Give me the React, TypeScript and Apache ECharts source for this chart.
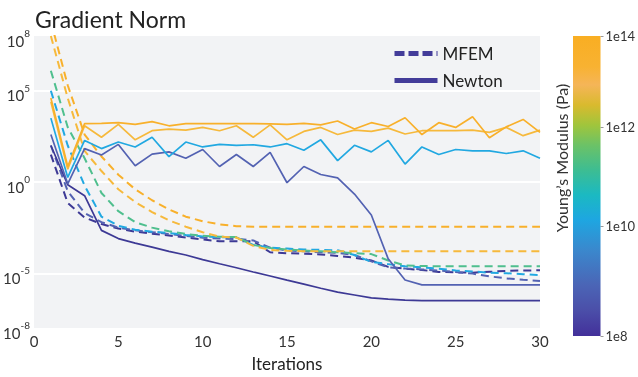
import React, { useEffect, useRef } from "react";
import * as echarts from "echarts";

// ---------- data (log10 of the gradient norm, per iteration) ----------
const iterations = [1, 2, 3, 4, 5, 6, 7, 8, 9, 10, 11, 12, 13, 14, 15, 16, 17, 18, 19, 20, 21, 22, 23, 24, 25, 26, 27, 28, 29, 30];

// Newton (solid)
const newtonE8 = [2.0, -0.15, -0.75, -2.65, -3.1, -3.35, -3.57, -3.8, -4.0, -4.25, -4.48, -4.7, -4.93, -5.15, -5.38, -5.6, -5.82, -6.03, -6.19, -6.35, -6.42, -6.47, -6.5, -6.5, -6.5, -6.5, -6.5, -6.5, -6.5, -6.5];
const newtonE9 = [2.6, -0.1, 1.83, 1.48, 2.06, 0.89, 1.53, 1.65, 1.3, 1.78, 0.85, 1.51, 0.85, 1.62, -0.04, 0.85, 0.41, 0.23, -0.66, -1.81, -4.21, -5.37, -5.64, -5.64, -5.64, -5.64, -5.64, -5.64, -5.64, -5.64];
const newtonE10 = [3.5, 0.25, 2.28, 1.83, 2.19, 1.92, 2.45, 1.39, 2.19, 1.92, 2.06, 2.01, 2.04, 1.92, 2.1, 1.74, 2.31, 1.17, 2.01, 1.65, 2.28, 0.98, 1.92, 1.51, 1.78, 1.71, 1.71, 1.56, 1.71, 1.3];
const newtonE13 = [4.4, 0.7, 3.08, 2.45, 3.16, 2.31, 2.81, 2.9, 2.84, 2.99, 2.81, 3.08, 2.45, 3.13, 2.31, 2.77, 2.99, 2.6, 2.84, 2.77, 2.95, 2.63, 2.81, 2.81, 2.81, 2.84, 2.72, 2.99, 2.54, 2.84];
const newtonE14 = [4.6, 0.85, 3.2, 3.21, 3.25, 3.16, 3.31, 3.08, 3.2, 3.2, 3.2, 3.2, 3.2, 3.18, 3.16, 3.21, 3.13, 3.34, 2.9, 3.25, 3.04, 3.52, 2.6, 3.25, 2.99, 3.58, 2.42, 3.02, 3.43, 2.72];

// MFEM (dashed)
const mfemE8 = [1.5, -1.15, -1.95, -2.3, -2.55, -2.72, -2.83, -2.93, -3.04, -3.15, -3.25, -3.25, -3.25, -3.85, -3.9, -3.93, -3.97, -4.05, -4.15, -4.3, -4.65, -4.75, -4.82, -4.93, -4.95, -4.97, -4.92, -4.87, -4.85, -4.84];
const mfemE9 = [2.0, -0.5, -1.7, -2.2, -2.5, -2.65, -2.75, -2.85, -2.95, -3.05, -3.1, -3.12, -3.2, -3.6, -3.75, -3.8, -3.85, -3.88, -4.0, -4.35, -4.68, -4.74, -4.79, -4.85, -4.93, -5.02, -5.17, -5.28, -5.36, -5.42];
const mfemE10 = [5.0, 2.0, -0.2, -1.9, -2.4, -2.62, -2.72, -2.8, -2.9, -2.98, -3.02, -3.03, -3.45, -3.6, -3.65, -3.7, -3.72, -3.74, -4.0, -4.38, -4.5, -4.62, -4.68, -4.75, -4.85, -4.9, -4.97, -5.0, -5.05, -5.1];
const mfemE11 = [6.1, 3.0, 1.3, -0.6, -1.6, -2.2, -2.5, -2.7, -2.85, -2.95, -3.0, -3.02, -3.45, -3.62, -3.7, -3.75, -3.8, -3.85, -3.9, -3.95, -4.3, -4.57, -4.6, -4.62, -4.62, -4.62, -4.62, -4.62, -4.62, -4.62];
const mfemE13 = [8.0, 4.6, 1.7, 0.6, -0.4, -1.1, -1.65, -2.1, -2.45, -2.75, -3.0, -3.04, -3.5, -3.72, -3.77, -3.79, -3.8, -3.8, -3.8, -3.8, -3.8, -3.8, -3.8, -3.8, -3.8, -3.8, -3.8, -3.8, -3.8, -3.8];
const mfemE14 = [8.8, 5.3, 2.6, 1.4, 0.4, -0.4, -1.0, -1.5, -1.9, -2.15, -2.32, -2.42, -2.45, -2.45, -2.45, -2.45, -2.45, -2.45, -2.45, -2.45, -2.45, -2.45, -2.45, -2.45, -2.45, -2.45, -2.45, -2.45, -2.45, -2.45];

// axes
const yRange = [-8, 8];
const yTickExponents = [-8, -5, 0, 5, 8];
const yGridExponents = [-5, 0, 5];
const xRange = [0, 30];
const xInterval = 5;
const legendNames = ["MFEM", "Newton"];
const colorbarRange = [8, 14]; // Young's modulus exponent
const colorbarTicks = [8, 10, 12, 14];

// ---------- styles ----------
const FONT = "Lato, 'Open Sans', sans-serif";
const lineColors: Record<number, string> = {
  8: "#3d3995",
  9: "#5362b2",
  10: "#21a8e1",
  11: "#4fbf8e",
  13: "#f6b93c",
  14: "#f8b02b",
};
const colorbarStops = [
  { offset: 0.0, color: "#43309a" },
  { offset: 0.087, color: "#4b4fa9" },
  { offset: 0.17, color: "#4b65b6" },
  { offset: 0.287, color: "#3a88cd" },
  { offset: 0.387, color: "#1ea6e1" },
  { offset: 0.47, color: "#1bb9c2" },
  { offset: 0.553, color: "#3dbd92" },
  { offset: 0.637, color: "#6cc266" },
  { offset: 0.703, color: "#a0c53c" },
  { offset: 0.77, color: "#d9ba2e" },
  { offset: 0.837, color: "#f5b558" },
  { offset: 0.897, color: "#f8b232" },
  { offset: 1.0, color: "#f9ae22" },
];

// colorbar scale (square root of the exponent, as the reference bar is spaced)
const cbScale = (e: number) => Math.sqrt(e);
const cbInverse = (v: number) => Math.round(v * v);

export default function App() {
  const ref = useRef<HTMLDivElement>(null);

  useEffect(() => {
    const chart = echarts.init(ref.current!, null, { renderer: "svg" });

    const defs = [
      { name: "MFEM", exp: 8, vals: mfemE8, dashed: true },
      { name: "MFEM 1e9", exp: 9, vals: mfemE9, dashed: true },
      { name: "MFEM 1e10", exp: 10, vals: mfemE10, dashed: true },
      { name: "MFEM 1e11", exp: 11, vals: mfemE11, dashed: true },
      { name: "MFEM 1e13", exp: 13, vals: mfemE13, dashed: true },
      { name: "MFEM 1e14", exp: 14, vals: mfemE14, dashed: true },
      { name: "Newton", exp: 8, vals: newtonE8, dashed: false },
      { name: "Newton 1e9", exp: 9, vals: newtonE9, dashed: false },
      { name: "Newton 1e10", exp: 10, vals: newtonE10, dashed: false },
      { name: "Newton 1e13", exp: 13, vals: newtonE13, dashed: false },
      { name: "Newton 1e14", exp: 14, vals: newtonE14, dashed: false },
    ];

    const lineSeries = defs.map((d) => ({
      type: "line",
      name: d.name,
      xAxisIndex: 0,
      yAxisIndex: 0,
      data: iterations.map((it, i) => [it, d.vals[i]]),
      symbol: "none",
      clip: true,
      silent: true,
      lineStyle: {
        color: lineColors[d.exp],
        width: d.dashed ? 2 : 1.7,
        type: d.dashed ? [8, 5] : "solid",
      },
      itemStyle: { color: lineColors[d.exp] },
    }));

    const cbLo = cbScale(colorbarRange[0]);
    const cbHi = cbScale(colorbarRange[1]);
    const cbTickVals = colorbarTicks.map(cbScale);

    const option: any = {
      animation: false,
      title: {
        text: "Gradient Norm",
        left: 30,
        top: 2,
        textStyle: { fontFamily: FONT, fontSize: 23, fontWeight: "normal", color: "#222" },
      },
      legend: {
        left: 392,
        top: 45,
        padding: 0,
        orient: "vertical",
        itemWidth: 43,
        itemHeight: 14,
        itemGap: 10,
        selectedMode: false,
        textStyle: { fontFamily: FONT, fontSize: 17, color: "#222" },
        data: [
          { name: legendNames[0], lineStyle: { color: "#433c99", width: 5, type: [10, 4] }, itemStyle: { opacity: 0 } },
          { name: legendNames[1], lineStyle: { color: "#433c99", width: 5, type: "solid" }, itemStyle: { opacity: 0 } },
        ],
      },
      grid: [
        { left: 34, top: 36, width: 506, height: 300, show: true, backgroundColor: "#f2f3f5", borderWidth: 0, containLabel: false },
        { left: 573, top: 36, width: 31, height: 300, show: false, containLabel: false },
      ],
      xAxis: [
        {
          type: "value",
          gridIndex: 0,
          min: xRange[0],
          max: xRange[1],
          interval: xInterval,
          axisLine: { show: false },
          axisTick: { show: false },
          splitLine: { show: false },
          axisLabel: { fontFamily: FONT, fontSize: 15, color: "#333", margin: 5 },
          name: "Iterations",
          nameLocation: "middle",
          nameGap: 27,
          nameTextStyle: { fontFamily: FONT, fontSize: 17, color: "#222" },
        },
        { type: "category", gridIndex: 1, data: ["E"], show: false },
      ],
      yAxis: [
        {
          type: "value",
          gridIndex: 0,
          min: yRange[0],
          max: yRange[1],
          axisLine: { show: false },
          axisTick: { show: false, customValues: yGridExponents },
          splitLine: { show: true, lineStyle: { color: "#ffffff", width: 2 } },
          axisLabel: {
            customValues: yTickExponents,
            margin: 4,
            padding: [4, 0, 0, 0],
            formatter: (v: number) => `{b|10}{s|${v}}`,
            rich: {
              b: { fontFamily: FONT, fontSize: 15, color: "#333", lineHeight: 20, verticalAlign: "bottom" },
              s: { fontFamily: FONT, fontSize: 10, color: "#333", lineHeight: 20, verticalAlign: "top" },
            },
          },
        },
        {
          type: "value",
          gridIndex: 1,
          min: cbLo,
          max: cbHi,
          position: "right",
          axisLine: { show: false },
          splitLine: { show: false },
          axisTick: {
            show: true,
            length: 3,
            lineStyle: { color: "#999" },
            customValues: cbTickVals,
          },
          axisLabel: {
            customValues: cbTickVals,
            formatter: (v: number) => "1e" + cbInverse(v),
            fontFamily: FONT,
            fontSize: 13,
            color: "#333",
            margin: 5,
          },
        },
      ],
      series: [
        ...lineSeries,
        {
          type: "bar",
          name: "cb-base",
          xAxisIndex: 1,
          yAxisIndex: 1,
          stack: "cb",
          barWidth: "100%",
          silent: true,
          data: [cbLo],
          itemStyle: { color: "rgba(0,0,0,0)" },
        },
        {
          type: "bar",
          name: "cb",
          xAxisIndex: 1,
          yAxisIndex: 1,
          stack: "cb",
          barWidth: "100%",
          silent: true,
          data: [cbHi - cbLo],
          itemStyle: { color: new echarts.graphic.LinearGradient(0, 1, 0, 0, colorbarStops) },
        },
      ],
      graphic: [
        {
          type: "text",
          x: 561,
          y: 158,
          rotation: Math.PI / 2,
          style: {
            text: "Young\u2019s Modulus (Pa)",
            fontFamily: FONT,
            fontSize: 16,
            fill: "#333",
            align: "center",
            verticalAlign: "middle",
          },
        },
      ],
    };

    chart.setOption(option);
    return () => chart.dispose();
  }, []);

  return <div ref={ref} style={{ position: "fixed", left: 0, top: 0, width: 638, height: 377 }} />;
}
